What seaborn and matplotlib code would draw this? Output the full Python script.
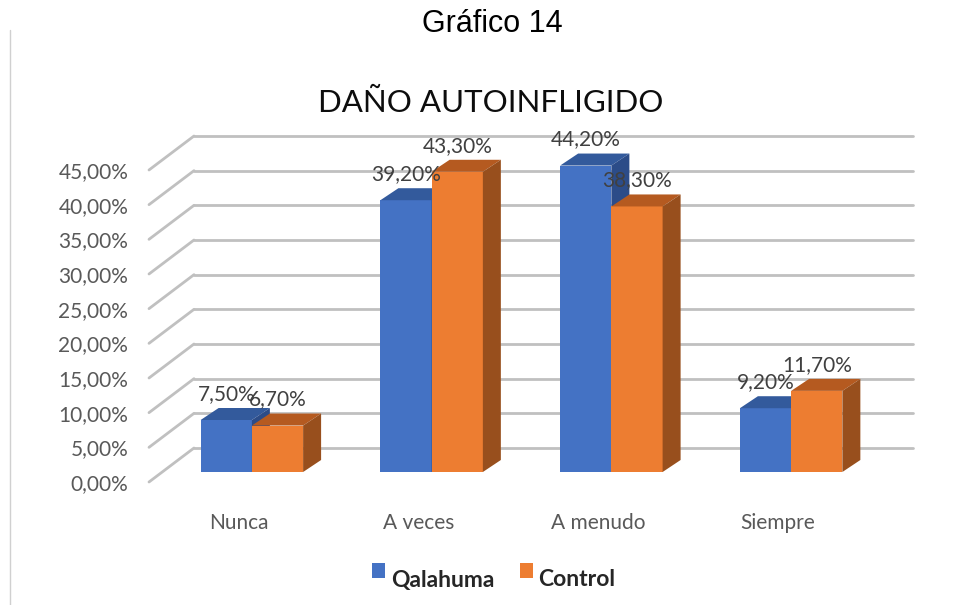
import numpy as np
import pandas as pd
import seaborn as sns
import matplotlib.pyplot as plt
from matplotlib.patches import Polygon, Patch, Rectangle
from matplotlib.lines import Line2D
from matplotlib.legend_handler import HandlerPatch
from matplotlib.transforms import ScaledTranslation

# ---- data ----
categorias = ["Nunca", "A veces", "A menudo", "Siempre"]
series = ["Qalahuma", "Control"]
qalahuma = [7.5, 39.2, 44.2, 9.2]
control = [6.7, 43.3, 38.3, 11.7]
yticks = [0, 5, 10, 15, 20, 25, 30, 35, 40, 45]
ytick_labels = ["0,00%", "5,00%", "10,00%", "15,00%", "20,00%", "25,00%",
                "30,00%", "35,00%", "40,00%", "45,00%"]
titulo = "DAÑO AUTOINFLIGIDO"
encabezado = "Gráfico 14"

BLUE, ORANGE = "#4472C4", "#ED7D31"
TOP = {BLUE: "#335a9c", ORANGE: "#b55a20"}
SIDE = {BLUE: "#2c4c88", ORANGE: "#984f1d"}

sns.set_style("white")
plt.rcParams["font.family"] = ["Lato", "DejaVu Sans"]

df = pd.DataFrame({
    "cat": categorias * 2,
    "val": qalahuma + control,
    "grupo": [series[0]] * len(categorias) + [series[1]] * len(categorias),
})

W, H = 963, 605
fig = plt.figure(figsize=(W / 100, H / 100), dpi=100)
ax = fig.add_axes([162 / W, 1 - 472 / H, 719 / W, 312 / H])
sns.barplot(data=df, x="cat", y="val", hue="grupo", order=categorias,
            hue_order=series, palette=[BLUE, ORANGE], width=0.57,
            saturation=1, legend=False, ax=ax, edgecolor="none")
ax.set_xlim(-0.5, 3.5)
ax.set_ylim(0, 45)
for s in ax.spines.values():
    s.set_visible(False)
ax.grid(False)
ax.set_xlabel("")
ax.set_ylabel("")

# pixel -> data conversion
o = ax.transData.transform((0, 0))
sx = ax.transData.transform((1, 0))[0] - o[0]
sy = ax.transData.transform((0, 1))[1] - o[1]
def off(px, py):
    return px / sx, py / sy

bx, by = off(32, 24)     # back wall offset
fx, fy = off(-13, -10)   # front floor offset
dx, dy = off(18, 12)     # bar depth

GRID = "#c0c0c0"
for v in yticks:
    ax.plot([-0.5 + bx, 3.5 + bx], [v + by, v + by], color=GRID, lw=2,
            solid_capstyle="round", clip_on=False, zorder=1)
    ax.plot([-0.5 + fx, -0.5 + bx], [v + fy, v + by], color=GRID, lw=2,
            solid_capstyle="round", clip_on=False, zorder=1)

# 3D faces
for p in ax.patches:
    fc = p.get_facecolor()
    is_blue = np.allclose(fc[:3], plt.matplotlib.colors.to_rgb(BLUE), atol=0.02)
    base = BLUE if is_blue else ORANGE
    z = 3 if is_blue else 5
    p.set_zorder(z)
    p.set_clip_on(False)
    x0, w, h = p.get_x(), p.get_width(), p.get_height()
    top = Polygon([(x0, h), (x0 + w, h), (x0 + w + dx, h + dy), (x0 + dx, h + dy)],
                  closed=True, facecolor=TOP[base], edgecolor="none",
                  zorder=z + 0.5, clip_on=False)
    side = Polygon([(x0 + w, 0), (x0 + w + dx, dy), (x0 + w + dx, h + dy), (x0 + w, h)],
                   closed=True, facecolor=SIDE[base], edgecolor="none",
                   zorder=z + 0.5, clip_on=False)
    ax.add_patch(top)
    ax.add_patch(side)
    lab = ("%.2f" % h).replace(".", ",") + "%"
    ax.annotate(lab, (x0 + w / 2, h), xytext=(0, 26 * 0.72),
                textcoords="offset points", ha="center", va="center",
                fontsize=15, color="#404040", zorder=10, annotation_clip=False)

# ticks
ax.set_yticks(yticks)
ax.set_yticklabels(ytick_labels)
ax.tick_params(axis="y", length=0, pad=15, labelsize=15, labelcolor="#595959")
ax.tick_params(axis="x", length=0, pad=22, labelsize=15, labelcolor="#595959")
shift = ScaledTranslation(-13 / 100, -10 / 100, fig.dpi_scale_trans)
for t in ax.get_yticklabels() + ax.get_xticklabels():
    t.set_transform(t.get_transform() + shift)

# titles
fig.text(492 / W, 1 - 24 / H, encabezado, ha="center", va="center",
         fontsize=22, family=["Liberation Sans", "DejaVu Sans"], color="black")
fig.text(491 / W, 1 - 103 / H, titulo, ha="center", va="center",
         fontsize=22.5, color="#0d0d0d")

# legend
class RaisedSquare(HandlerPatch):
    def create_artists(self, legend, orig_handle, xdescent, ydescent,
                       width, height, fontsize, trans):
        r = Rectangle((-xdescent, -ydescent + height * 0.55), width, height,
                      facecolor=orig_handle.get_facecolor(), edgecolor="none",
                      transform=trans)
        return [r]

handles = [Patch(facecolor=BLUE), Patch(facecolor=ORANGE)]
fig.legend(handles, series, loc="center", bbox_to_anchor=(494 / W, 1 - 580 / H),
           ncol=2, frameon=False, handlelength=0.57, handleheight=0.62,
           handletextpad=0.25, columnspacing=1.1,
           handler_map={Patch: RaisedSquare()},
           prop={"weight": "bold", "size": 16.5})

# page border line
fig.add_artist(Line2D([10 / W, 10 / W], [0, 1 - 30 / H], transform=fig.transFigure,
                      color="#d0d0d0", lw=1))

fig.savefig("out.png", dpi=100)
